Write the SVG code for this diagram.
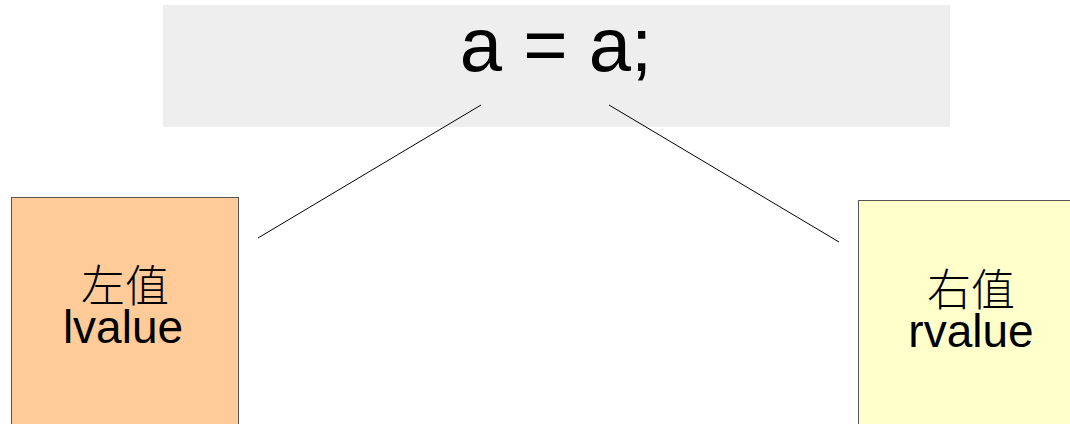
<svg xmlns="http://www.w3.org/2000/svg" width="1070" height="424" viewBox="0 0 1070 424">
<style>
.lbl{font-family:"Liberation Sans",Arial,"Noto Sans CJK SC",sans-serif;fill:#000;text-anchor:middle}
.cjk{font-family:"Noto Sans CJK SC","Noto Sans CJK JP",sans-serif;font-weight:300}
.conn{stroke:#000;stroke-width:1;fill:none}
</style>
<rect width="1070" height="424" fill="#fff"/>
<g id="stmt">
<rect x="163" y="5" width="787" height="122" fill="#eeeeee"/>
<text class="lbl" x="556" y="71" font-size="76">a = a;</text>
</g>
<g id="lvalue">
<rect x="11.5" y="197.5" width="227" height="230" fill="#ffcc99" stroke="#555" stroke-width="1"/>
<text class="lbl" font-size="46"><tspan class="cjk" x="125" y="302" font-size="44">左值</tspan><tspan x="123" y="343">lvalue</tspan></text>
</g>
<g id="rvalue">
<rect x="858.5" y="200.5" width="215" height="230" fill="#ffffcc" stroke="#555" stroke-width="1"/>
<text class="lbl" font-size="46"><tspan class="cjk" x="971" y="306" font-size="44">右值</tspan><tspan x="971" y="347">rvalue</tspan></text>
</g>
<g id="connectors">
<line class="conn" x1="481" y1="105" x2="258" y2="238"/>
<line class="conn" x1="609" y1="105" x2="839" y2="242"/>
</g>
</svg>
